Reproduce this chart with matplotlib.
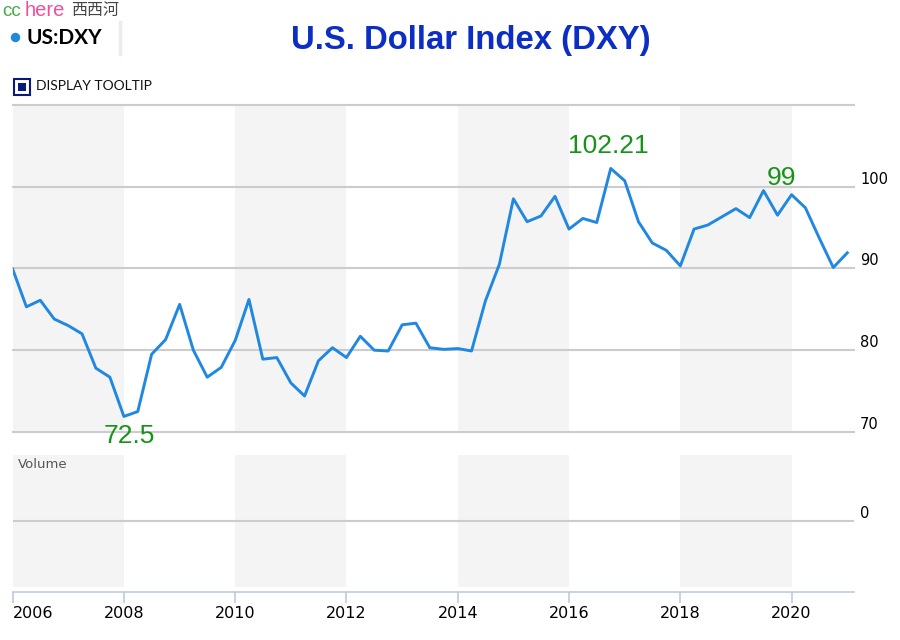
import matplotlib
matplotlib.use("Agg")
import matplotlib.pyplot as plt
import matplotlib.patches as mpatches
import matplotlib.lines as mlines
import pandas as pd

# ---------------- data ----------------
quarters = pd.date_range("2006-01-01", "2021-01-01", freq="QS")
dxy = [89.9, 85.3, 86.1, 83.8, 83.0, 82.0, 77.8, 76.7,
       71.9, 72.5, 79.5, 81.3, 85.6, 80.0, 76.7, 77.9,
       81.2, 86.2, 78.9, 79.1, 76.0, 74.4, 78.7, 80.3,
       79.1, 81.7, 80.0, 79.9, 83.1, 83.3, 80.3, 80.1,
       80.2, 79.9, 86.0, 90.5, 98.5, 95.7, 96.4, 98.8,
       94.8, 96.1, 95.6, 102.21, 100.7, 95.7, 93.1, 92.2,
       90.3, 94.8, 95.3, 96.3, 97.3, 96.2, 99.5, 96.5,
       99.0, 97.4, 93.7, 90.1, 91.9]
tick_years = [2006, 2008, 2010, 2012, 2014, 2016, 2018, 2020]
band_starts = [2006, 2010, 2014, 2018]
price_ticks = [70, 80, 90, 100, 110]
price_labels = ["70", "80", "90", "100", ""]
annotations = [("2016-10-01", 102.21, "102.21", (-2, 16)),
               ("2020-01-01", 99.0, "99", (-7, 12)),
               ("2008-01-01", 71.9, "72.5", (4, -14))]

# ---------------- style ----------------
W, H = 900, 640
LINE = "#2088e0"
BAND = "#f4f4f4"
GRID = "#cccccc"
GREEN = "#179417"
AXBLUE = "#b8c8dc"

fig = plt.figure(figsize=(9, 6.4), dpi=100)

def fx(x):
    return x / W

def fy(y):
    return 1 - y / H

left_px, right_px = 12.7, 854
xmin = pd.Timestamp("2006-01-01")
xmax = pd.Timestamp("2021-02-14")

# main price axes
ax = fig.add_axes([fx(left_px), fy(432), (right_px - left_px) / W, (432 - 104.7) / H])
for s in ax.spines.values():
    s.set_visible(False)
for b in band_starts:
    ax.axvspan(pd.Timestamp(f"{b}-01-01"), pd.Timestamp(f"{b + 2}-01-01"),
               color=BAND, lw=0, zorder=0)
for v in price_ticks:
    ax.axhline(v, color=GRID, lw=1.5, zorder=1, clip_on=False)
ax.plot(quarters, dxy, color=LINE, lw=2.1, zorder=3)
ax.set_xlim(xmin, xmax)
ax.set_ylim(70, 110)
ax.set_xticks([])
ax.yaxis.tick_right()
ax.set_yticks(price_ticks)
ax.set_yticklabels(price_labels, va="bottom")
ax.tick_params(axis="y", length=0, pad=4.3, labelsize=10.5, labelcolor="black")

for d, v, txt, off in annotations:
    ax.annotate(txt, xy=(pd.Timestamp(d), v), xytext=off, textcoords="offset points",
                ha="center", va="center", fontsize=19, color=GREEN,
                family="Liberation Sans", zorder=4, annotation_clip=False)

# volume axes
vax = fig.add_axes([fx(left_px), fy(587), (right_px - left_px) / W, (587 - 455) / H])
for k, s in vax.spines.items():
    s.set_visible(k == "bottom")
vax.spines["bottom"].set_position(("outward", 3.6))
vax.spines["bottom"].set_color(AXBLUE)
vax.spines["bottom"].set_linewidth(1.1)
for b in band_starts:
    vax.axvspan(pd.Timestamp(f"{b}-01-01"), pd.Timestamp(f"{b + 2}-01-01"),
                color=BAND, lw=0, zorder=0)
vax.axhline(0, color=GRID, lw=1.5, zorder=1)
vax.set_xlim(xmin, xmax)
vax.set_ylim(-1, 1)
vax.yaxis.tick_right()
vax.set_yticks([0])
vax.set_yticklabels(["0"], va="bottom")
vax.tick_params(axis="y", length=0, pad=4.3, labelsize=10.5)
vax.set_xticks([pd.Timestamp(f"{y}-01-01") for y in tick_years])
vax.set_xticklabels([str(y) for y in tick_years])
vax.tick_params(axis="x", direction="out", length=8, width=1.1, color=AXBLUE,
                pad=2, labelsize=11.5)
vax.get_xticklabels()[0].set_ha("left")
vax.text((18 - left_px) / (right_px - left_px), 1 - (464 - 455) / (587 - 455),
         "Volume", transform=vax.transAxes, fontsize=9.5, color="#555555",
         ha="left", va="center")

# ---------------- header ----------------
fig.text(0.5228, fy(41), "U.S. Dollar Index (DXY)", ha="center", va="center",
         fontsize=23.7, fontweight="bold", color="#0d2ec2", family="Liberation Sans")

fig.text(fx(2), fy(11), "cc", ha="left", va="center", fontsize=13.5,
         color="#45ad45", family="Liberation Sans")
fig.text(fx(25), fy(11), "here", ha="left", va="center", fontsize=14.5,
         color="#f0509a", family="Liberation Sans")
fig.text(fx(71), fy(11), "西西河", ha="left", va="center", fontsize=11.5,
         color="#444444", family=["Noto Sans CJK SC", "DejaVu Sans"])

fig.add_artist(mpatches.Ellipse((fx(15.5), fy(37.5)), 8 / W, 8 / H,
                                transform=fig.transFigure, color=LINE))
fig.text(fx(26), fy(38), "US:DXY", ha="left", va="center", fontsize=15,
         fontweight="bold", color="black", family="Lato")
fig.add_artist(mlines.Line2D([fx(120), fx(120)], [fy(22), fy(54)],
                             transform=fig.transFigure, color="#ececec", lw=2.5))

fig.add_artist(mpatches.Rectangle((fx(14), fy(95)), 16 / W, 16 / H,
                                  transform=fig.transFigure, fill=False,
                                  edgecolor="#0a1a7a", lw=1.5))
fig.add_artist(mpatches.Rectangle((fx(18), fy(91)), 8 / W, 8 / H,
                                  transform=fig.transFigure, color="#0a1a7a", lw=0))
fig.text(fx(36), fy(86.5), "DISPLAY TOOLTIP", ha="left", va="center", fontsize=10,
         color="#111111", family="Lato")

fig.savefig("out.png", dpi=100)
